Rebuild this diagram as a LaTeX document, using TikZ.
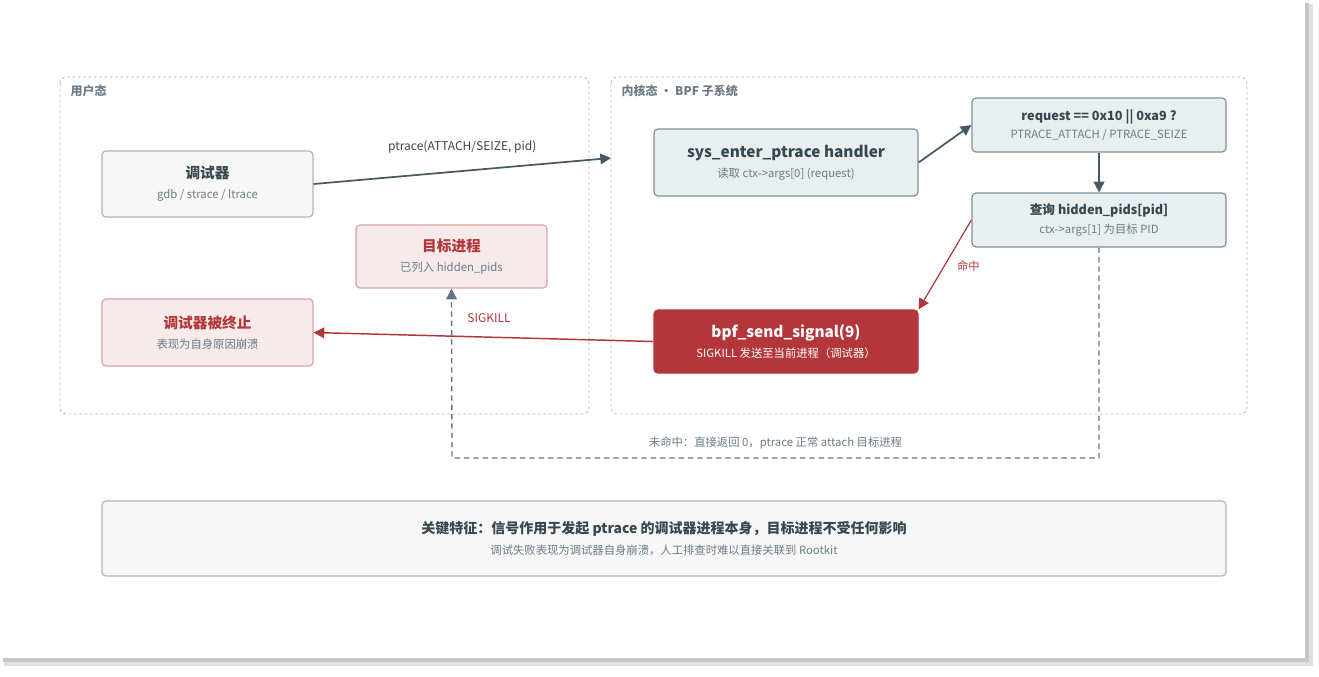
\documentclass[tikz,border=0pt]{standalone}
\usepackage{fontspec}
\setmainfont{Noto Sans CJK SC}
\usetikzlibrary{arrows.meta}
\definecolor{ink}{HTML}{37474F}
\definecolor{slate}{HTML}{455A64}
\definecolor{mute}{HTML}{6B7C86}
\definecolor{gfill}{HTML}{E9EEF1}
\definecolor{gline}{HTML}{7F929C}
\definecolor{rtext}{HTML}{B3363A}
\definecolor{rfill}{HTML}{F6EAEA}
\definecolor{rline}{HTML}{DFA0A2}
\definecolor{zone}{HTML}{AAB6BD}
\tikzset{
  sz/.style 2 args={minimum width=#1*0.75pt, minimum height=#2*0.75pt},
  box/.style={draw=gline, fill=gfill, rounded corners=3pt, line width=0.9pt, align=center, inner sep=2pt},
  lbox/.style={box, draw=zone, fill=gray!6},
  rbox/.style={box, draw=rline, fill=rfill},
  hot/.style={box, draw=rtext, fill=rtext, text=white},
  zonebox/.style={draw=zone, dashed, dash pattern=on 2pt off 2pt, rounded corners=5pt, line width=0.6pt},
  flow/.style={-{Triangle[length=8pt,width=8pt]}, line width=1.3pt, slate},
  kill/.style={-{Triangle[length=8pt,width=8pt]}, line width=1.1pt, rtext},
}
\begin{document}
\begin{tikzpicture}[x=0.75pt, y=-0.75pt]
  \useasboundingbox (0,0) rectangle (1319,676);
  % card
  \fill[black!12] (4,4) rectangle (1313,666);
  \fill[black!22] (3,3) rectangle (1309,662);
  \fill[white] (0,0) rectangle (1305,658);
  % zones
  \draw[zonebox] (60,77) rectangle (589,414);
  \draw[zonebox] (611,77) rectangle (1247,414);
  \node[anchor=west, text=mute, font=\fontsize{9}{10}\selectfont\bfseries] (user) at (66,91) {用户态};
  \node[anchor=west, text=mute, font=\fontsize{9}{10}\selectfont\bfseries] (kern) at (617,91) {内核态 · BPF 子系统};
  \coordinate (kwest) at (611,158);

  % user space
  \node[lbox, sz={211}{66}] (dbg) at (207.5,184) {{\fontsize{11}{13}\selectfont\bfseries\color{ink}调试器}\\[3pt]{\fontsize{8.5}{10}\selectfont\color{mute}gdb / strace / ltrace}};
  \node[rbox, sz={191}{63}] (tgt) at (451.5,256.5) {{\fontsize{11}{13}\selectfont\bfseries\color{rtext}目标进程}\\[3pt]{\fontsize{8.5}{10}\selectfont\color{mute}已列入 hidden\_pids}};
  \node[rbox, sz={211}{67}] (dead) at (207.5,332.5) {{\fontsize{11}{13}\selectfont\bfseries\color{rtext}调试器被终止}\\[3pt]{\fontsize{8.5}{10}\selectfont\color{mute}表现为自身原因崩溃}};

  % kernel
  \node[box, sz={264}{67}] (hdl) at (786,162.5) {{\fontsize{11.5}{13}\selectfont\bfseries\color{ink}sys\_enter\_ptrace handler}\\[3pt]{\fontsize{8.5}{10}\selectfont\color{mute}读取 ctx->args[0] (request)}};
  \node[box, sz={254}{54}] (req) at (1099,125) {{\fontsize{9.5}{12}\selectfont\bfseries\color{ink}request == 0x10 || 0xa9 ?}\\[2pt]{\fontsize{8.5}{10}\selectfont\color{mute}PTRACE\_ATTACH / PTRACE\_SEIZE}};
  \node[box, sz={254}{54}] (qry) at (1099,220) {{\fontsize{9.5}{12}\selectfont\bfseries\color{ink}查询 hidden\_pids[pid]}\\[2pt]{\fontsize{8.5}{10}\selectfont\color{mute}ctx->args[1] 为目标 PID}};
  \node[hot, sz={264}{63}] (sig) at (786,341.5) {{\fontsize{11.5}{13}\selectfont\bfseries bpf\_send\_signal(9)}\\[3pt]{\fontsize{8.5}{10}\selectfont SIGKILL 发送至当前进程（调试器）}};

  % summary
  \node[lbox, sz={1124}{75}] (note) at (664,538.5) {{\fontsize{10.5}{13}\selectfont\bfseries\color{ink}关键特征：信号作用于发起 ptrace 的调试器进程本身，目标进程不受任何影响}\\[4pt]{\fontsize{8.5}{10}\selectfont\color{mute}调试失败表现为调试器自身崩溃，人工排查时难以直接关联到 Rootkit}};

  % connectors
  \draw[flow] (dbg.east) -- node[above=9pt, text=ink, font=\fontsize{9}{10}\selectfont] {ptrace(ATTACH/SEIZE, pid)} (kwest);
  \draw[flow] (hdl.east) -- (req.west);
  \draw[flow] (req.south) -- (qry.north);
  \draw[kill, line width=0.9pt] (qry.west) -- node[right=6pt, pos=0.52, text=rtext, font=\fontsize{8.5}{10}\selectfont] {命中} (sig.north east);
  \draw[kill] (sig.west) -- (dead.east);
  \draw[-{Triangle[length=8pt,width=8pt]}, line width=1pt, gline!80!black, dashed, dash pattern=on 4pt off 3pt]
    (qry.south) -- (1099,458) -- node[above=3pt, text=mute, font=\fontsize{8.5}{10}\selectfont, pos=0.5] {未命中：直接返回 0，ptrace 正常 attach 目标进程} (452,458) -- (tgt.south);
  \node[text=rtext, font=\fontsize{9}{10}\selectfont] (sk) at (489,318) {SIGKILL};
\end{tikzpicture}
\end{document}
